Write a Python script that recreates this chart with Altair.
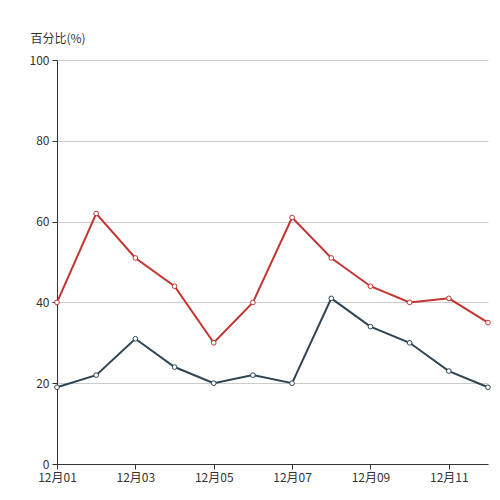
import altair as alt
import pandas as pd

dates = ['12月01', '12月02', '12月03', '12月04', '12月05', '12月06',
         '12月07', '12月08', '12月09', '12月10', '12月11', '12月12']
series_a = [40, 62, 51, 44, 30, 40, 61, 51, 44, 40, 41, 35]
series_b = [19, 22, 31, 24, 20, 22, 20, 41, 34, 30, 23, 19]
series_names = ['A', 'B']
series_colors = ['#c23531', '#2f4554']
x_labels = ['12月01', '12月03', '12月05', '12月07', '12月09', '12月11']

rows = []
for name, vals in zip(series_names, [series_a, series_b]):
    for d, v in zip(dates, vals):
        rows.append({'date': d, 'value': v, 'series': name})
df = pd.DataFrame(rows)

font = 'Noto Sans CJK SC'

x = alt.X('date:O', sort=dates, scale=alt.Scale(padding=0),
          axis=alt.Axis(title=None, values=x_labels, labelAngle=0, grid=False,
                        domainColor='#333', tickColor='#333', tickSize=5,
                        labelColor='#333', labelFontSize=12, labelFont=font,
                        labelPadding=3))
y = alt.Y('value:Q', scale=alt.Scale(domain=[0, 100], nice=False),
          axis=alt.Axis(title='百分比(%)', values=[0, 20, 40, 60, 80, 100],
                        grid=True, gridColor='#cccccc', domainColor='#333',
                        tickColor='#333', tickSize=5, labelColor='#333',
                        labelFontSize=12, labelFont=font, labelPadding=3,
                        titleAngle=0, titleAlign='left', titleBaseline='alphabetic',
                        titleX=-27, titleY=-18, titleFont=font, titleFontSize=12,
                        titleFontWeight='normal', titleColor='#333'))
color_scale = alt.Scale(domain=series_names, range=series_colors)

base = alt.Chart(df).encode(x=x, y=y, detail='series:N')
lines = base.mark_line(strokeWidth=2).encode(
    color=alt.Color('series:N', scale=color_scale, legend=None))
points = base.mark_point(size=22, strokeWidth=1, opacity=1).encode(
    stroke=alt.Stroke('series:N', scale=color_scale, legend=None),
    fill=alt.value('white'))

chart = (lines + points).properties(
    width=431, height=404,
    autosize=alt.AutoSizeParams(type='none'),
    padding={'left': 49, 'top': 52, 'right': 4, 'bottom': 28},
    background='white'
).configure_view(stroke=None)

chart.save("out.html", embed_options={"renderer": "svg", "actions": False})
